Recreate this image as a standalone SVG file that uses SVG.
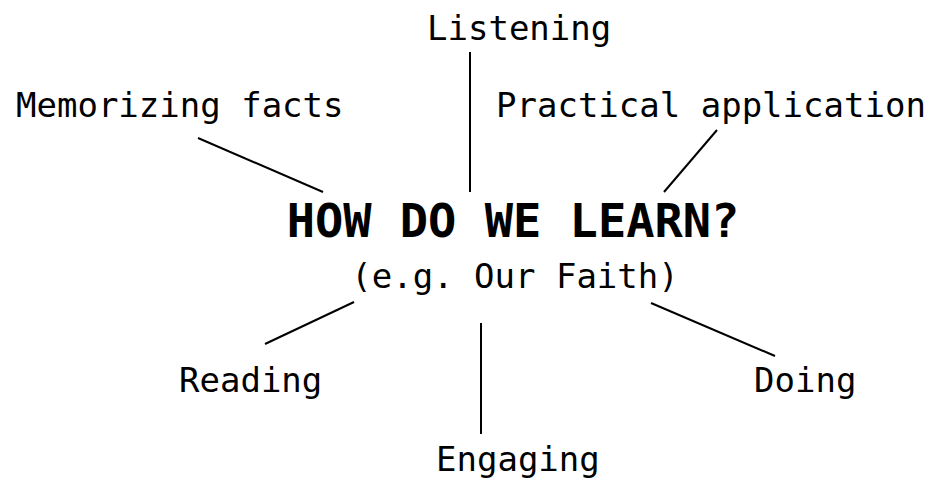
<svg xmlns="http://www.w3.org/2000/svg" width="932" height="480" viewBox="0 0 932 480">
<style>
text{font-family:"DejaVu Sans Mono","Liberation Mono",monospace;fill:#000;font-size:34px}
.title{font-weight:bold;font-size:47px}
.c line{stroke:#000;stroke-width:2;stroke-linecap:butt}
</style>
<rect width="932" height="480" fill="#fff"/>
<g id="center">
<text class="title" x="513" y="237" text-anchor="middle">HOW DO WE LEARN?</text>
<text x="515" y="288" text-anchor="middle">(e.g. Our Faith)</text>
</g>
<g id="memorizing"><text x="16" y="117">Memorizing facts</text></g>
<g id="listening"><text x="427" y="40">Listening</text></g>
<g id="practical"><text x="496" y="117">Practical application</text></g>
<g id="reading"><text x="179" y="392">Reading</text></g>
<g id="engaging"><text x="436" y="471">Engaging</text></g>
<g id="doing"><text x="754" y="392">Doing</text></g>
<g class="c" id="connectors">
<line x1="198" y1="138" x2="323" y2="192"/>
<line x1="470" y1="52" x2="470" y2="192"/>
<line x1="717" y1="130" x2="664" y2="192"/>
<line x1="354" y1="302" x2="265" y2="344"/>
<line x1="481" y1="323" x2="481" y2="434"/>
<line x1="651" y1="303" x2="775" y2="356"/>
</g>
</svg>
